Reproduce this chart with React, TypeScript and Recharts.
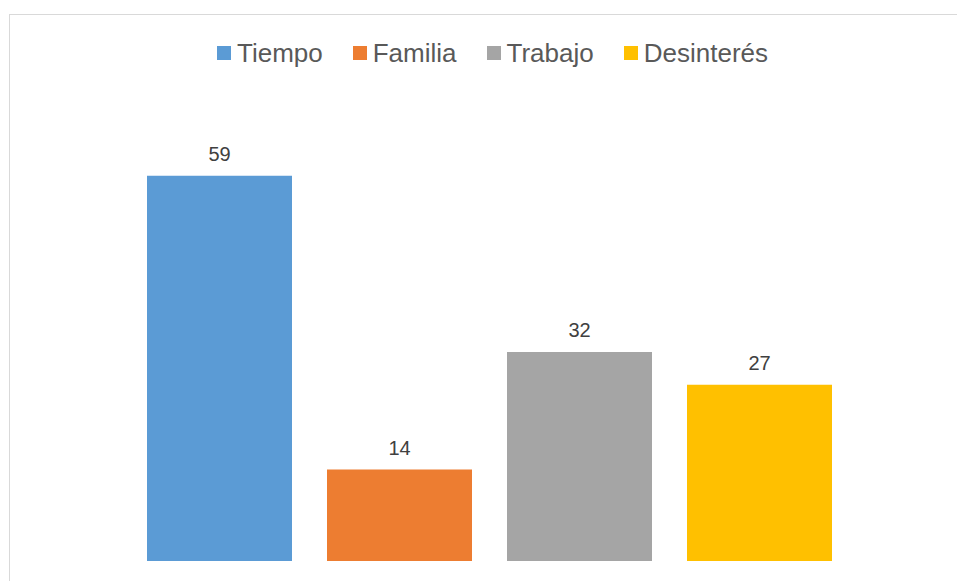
import { BarChart, Bar, XAxis, YAxis, LabelList } from 'recharts'

const categories = ['']
const seriesNames = ['Tiempo', 'Familia', 'Trabajo', 'Desinterés']
const seriesValues = [59, 14, 32, 27]
const seriesColors = ['#5B9BD5', '#ED7D31', '#A5A5A5', '#FFC000']

const chartData = categories.map((name) => {
  const row: Record<string, string | number> = { name }
  seriesNames.forEach((s, i) => {
    row[s] = seriesValues[i]
  })
  return row
})

const FONT = '"Liberation Sans", Arial, sans-serif'

function ChartLegend() {
  return (
    <div
      style={{
        position: 'absolute',
        top: 38,
        left: 0,
        width: 985,
        display: 'flex',
        justifyContent: 'center',
        alignItems: 'center',
        gap: 30,
        fontFamily: FONT,
        fontSize: 26,
        lineHeight: '30px',
        color: '#595959',
      }}
    >
      {seriesNames.map((s, i) => (
        <div key={s} style={{ display: 'flex', alignItems: 'center' }}>
          <span
            style={{
              display: 'inline-block',
              width: 14,
              height: 14,
              background: seriesColors[i],
              marginRight: 6,
            }}
          />
          <span>{s}</span>
        </div>
      ))}
    </div>
  )
}

export default function App() {
  return (
    <div
      style={{
        position: 'fixed',
        left: 0,
        top: 0,
        width: 957,
        height: 581,
        overflow: 'hidden',
        background: '#fff',
      }}
    >
      {/* chart area frame, cropped on the right and bottom */}
      <div
        style={{
          position: 'absolute',
          left: 9,
          top: 14,
          width: 1000,
          height: 1000,
          borderTop: '1px solid #d9d9d9',
          borderLeft: '1px solid #d9d9d9',
        }}
      />
      <ChartLegend />
      <div style={{ position: 'absolute', left: 0, top: 0 }}>
        <BarChart
          width={957}
          height={581}
          data={chartData}
          margin={{ top: 104, right: 17, left: 39, bottom: 20 }}
          barSize={145}
          barGap={35}
        >
          <XAxis dataKey="name" hide />
          <YAxis type="number" domain={[0, 70]} hide />
          {seriesNames.map((s, i) => (
            <Bar key={s} dataKey={s} fill={seriesColors[i]} isAnimationActive={false}>
              <LabelList
                dataKey={s}
                position="top"
                offset={15}
                style={{ fontFamily: FONT, fontSize: 20, fill: '#404040' }}
              />
            </Bar>
          ))}
        </BarChart>
      </div>
    </div>
  )
}
